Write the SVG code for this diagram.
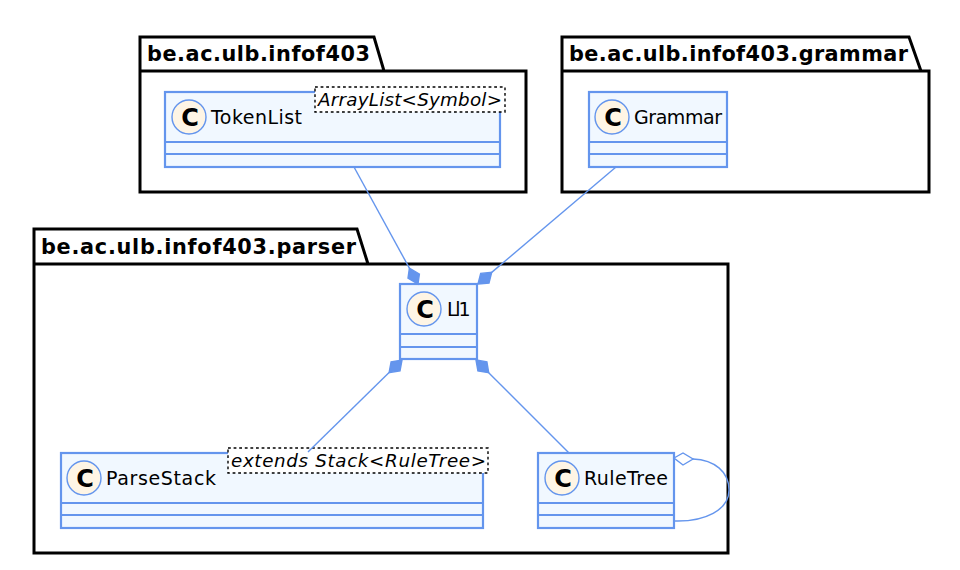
<svg xmlns="http://www.w3.org/2000/svg" width="960" height="570" viewBox="0 0 960 570">
<style>
text{font-family:"DejaVu Sans",sans-serif;fill:#000}
.pkg{fill:#fff;stroke:#000;stroke-width:3}
.pt{font-size:20.8px;font-weight:700}
.cls{fill:#F1F8FF;stroke:#6495ED;stroke-width:2.2}
.sep{fill:none;stroke:#6495ED;stroke-width:2.2}
.spot{fill:#FEF5E5;stroke:#6495ED;stroke-width:1.4}
.c{font-size:24px;font-weight:700;text-anchor:middle}
.name{font-size:19px}
.tpl{fill:#fff;stroke:#000;stroke-width:1.4;stroke-dasharray:2.8 2.8}
.tt{font-size:18.3px;font-style:italic}
.ln{fill:none;stroke:#6495ED;stroke-width:1.4}
.fd{fill:#6495ED;stroke:#6495ED;stroke-width:1.4}
.od{fill:#fff;stroke:#6495ED;stroke-width:1.4}
</style>
<g id="pkg-infof403"><path class="pkg" d="M140,71V37H374L384,71H526V192H140Z M140,71H384"/><text class="pt" x="147" y="61" textLength="223">be.ac.ulb.infof403</text></g>
<g id="pkg-grammar"><path class="pkg" d="M562,71V37H909L921,71H929V192H562Z M562,71H921"/><text class="pt" x="569" y="61" textLength="339">be.ac.ulb.infof403.grammar</text></g>
<g id="pkg-parser"><path class="pkg" d="M34,264V229H357L368,264H728V553H34Z M34,264H368"/><text class="pt" x="41" y="254" textLength="315">be.ac.ulb.infof403.parser</text></g>
<g id="TokenList"><rect class="cls" x="165" y="92" width="335" height="75"/><path class="sep" d="M165,142H500M165,154H500"/><circle class="spot" cx="189" cy="117" r="17"/><text class="c" x="190" y="125.5">C</text><text class="name" x="211" y="124" textLength="91">TokenList</text><rect class="tpl" x="315" y="87" width="190" height="25"/><text class="tt" x="318" y="106" textLength="184">ArrayList&lt;Symbol&gt;</text></g>
<g id="Grammar"><rect class="cls" x="589" y="92" width="138" height="75"/><path class="sep" d="M589,142H727M589,154H727"/><circle class="spot" cx="612" cy="117" r="17"/><text class="c" x="613" y="125.5">C</text><text class="name" x="634" y="124" textLength="88">Grammar</text></g>
<g id="Ll1"><rect class="cls" x="400" y="284" width="77" height="75"/><path class="sep" d="M400,334H477M400,347H477"/><circle class="spot" cx="424" cy="309" r="17"/><text class="c" x="425" y="317.5">C</text><text class="name" x="447" y="316" textLength="23.5">Ll1</text></g>
<g id="ParseStack"><rect class="cls" x="61" y="453" width="422" height="75"/><path class="sep" d="M61,503H483M61,515H483"/><circle class="spot" cx="84" cy="478" r="17"/><text class="c" x="85" y="486.5">C</text><text class="name" x="106" y="485" textLength="110">ParseStack</text><rect class="tpl" x="228" y="448" width="260" height="25"/><text class="tt" x="231" y="467" textLength="255">extends Stack&lt;RuleTree&gt;</text></g>
<g id="RuleTree"><rect class="cls" x="538" y="453" width="136" height="75"/><path class="sep" d="M538,503H674M538,515H674"/><circle class="spot" cx="562" cy="478" r="17"/><text class="c" x="563" y="486.5">C</text><text class="name" x="584" y="485" textLength="84">RuleTree</text></g>
<g id="connectors">
<path class="ln" d="M354,167L409.4,268.2"/><path class="fd" d="M418,284L419.4,274L409.4,268.2L408,278.2Z"/>
<path class="ln" d="M616,167L491.7,272.4"/><path class="fd" d="M478,284L489,283L491.7,272.4L480.7,273.4Z"/>
<path class="ln" d="M389.1,372.6L308,452"/><path class="fd" d="M402,360L400,370.8L389.1,372.6L391.1,361.8Z"/>
<path class="ln" d="M488.7,372.7L569,453"/><path class="fd" d="M476,360L486.9,361.9L488.7,372.7L477.9,370.9Z"/>
<path class="ln" d="M693,459C715,460 729,472 729,490C729,510 705,522 674,521"/><path class="od" d="M674,458L683,453L693,459L683,465Z"/>
</g>
</svg>
